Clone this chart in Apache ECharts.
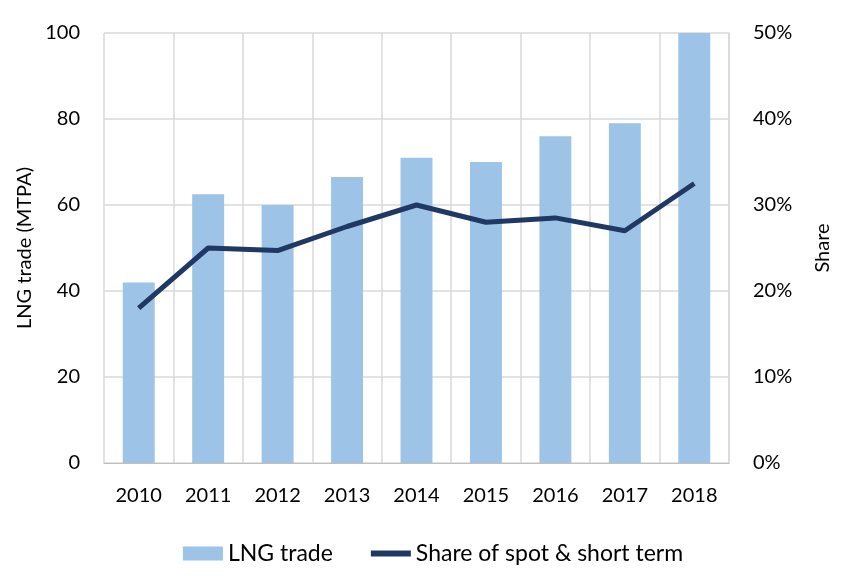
<!DOCTYPE html>
<html><head><meta charset="utf-8">
<script src="https://cdn.jsdelivr.net/npm/echarts@6/dist/echarts.min.js"></script>
<style>html,body{margin:0;padding:0;background:#fff}#c{width:866px;height:587px}</style>
</head><body><div id="c"></div>
<script>
const categories = ['2010','2011','2012','2013','2014','2015','2016','2017','2018'];
const lngTrade = [42, 62.5, 60, 66.5, 71, 70, 76, 79, 100];
const shareSpot = [18, 25, 24.7, 27.5, 30, 28, 28.5, 27, 32.5];
const leftTicks = [0, 20, 40, 60, 80, 100];

const font = 'Lato, "Open Sans", sans-serif';
const chart = echarts.init(document.getElementById('c'));
chart.setOption({
  animation: false,
  grid: { left: 104, right: 137, top: 33, bottom: 124 },
  legend: {
    top: 537, left: 'center', itemGap: 38, itemWidth: 40, itemHeight: 14,
    textStyle: { fontFamily: font, fontSize: 23, color: '#000' },
    data: [
      { name: 'LNG trade', icon: 'rect' },
      { name: 'Share of spot & short term', icon: 'path://M0,0H40V6H0Z', itemStyle: { color: '#203864' } }
    ]
  },
  xAxis: {
    type: 'category', data: categories, boundaryGap: true,
    axisLine: { lineStyle: { color: '#bfbfbf', width: 1 } },
    axisTick: { show: false },
    splitLine: { show: true, lineStyle: { color: '#d9d9d9', width: 1.5 } },
    axisLabel: { fontFamily: font, fontSize: 20, color: '#000', margin: 23 }
  },
  yAxis: [
    {
      type: 'value', min: 0, max: 100, interval: 20,
      name: 'LNG trade (MTPA)', nameLocation: 'middle', nameGap: 68, nameRotate: 90,
      nameTextStyle: { fontFamily: font, fontSize: 20, color: '#000' },
      axisLine: { show: false }, axisTick: { show: false },
      splitLine: { lineStyle: { color: '#d9d9d9', width: 1.5 } },
      axisLabel: { fontFamily: font, fontSize: 20, color: '#000', margin: 24 }
    },
    {
      type: 'value', min: 0, max: 50, interval: 10,
      name: 'Share', nameLocation: 'middle', nameGap: 84, nameRotate: 90,
      nameTextStyle: { fontFamily: font, fontSize: 20, color: '#000' },
      axisLine: { show: true, lineStyle: { color: '#d9d9d9', width: 1.5 } }, axisTick: { show: false },
      splitLine: { show: false },
      axisLabel: { fontFamily: font, fontSize: 20, color: '#000', margin: 24, formatter: '{value}%' }
    }
  ],
  series: [
    {
      name: 'LNG trade', type: 'bar', data: lngTrade, barWidth: '46%',
      itemStyle: { color: '#9dc3e6' }
    },
    {
      name: 'Share of spot & short term', type: 'line', yAxisIndex: 1, data: shareSpot,
      symbol: 'none', lineStyle: { color: '#203864', width: 5 }, itemStyle: { color: '#203864' }
    }
  ]
});
</script></body></html>
